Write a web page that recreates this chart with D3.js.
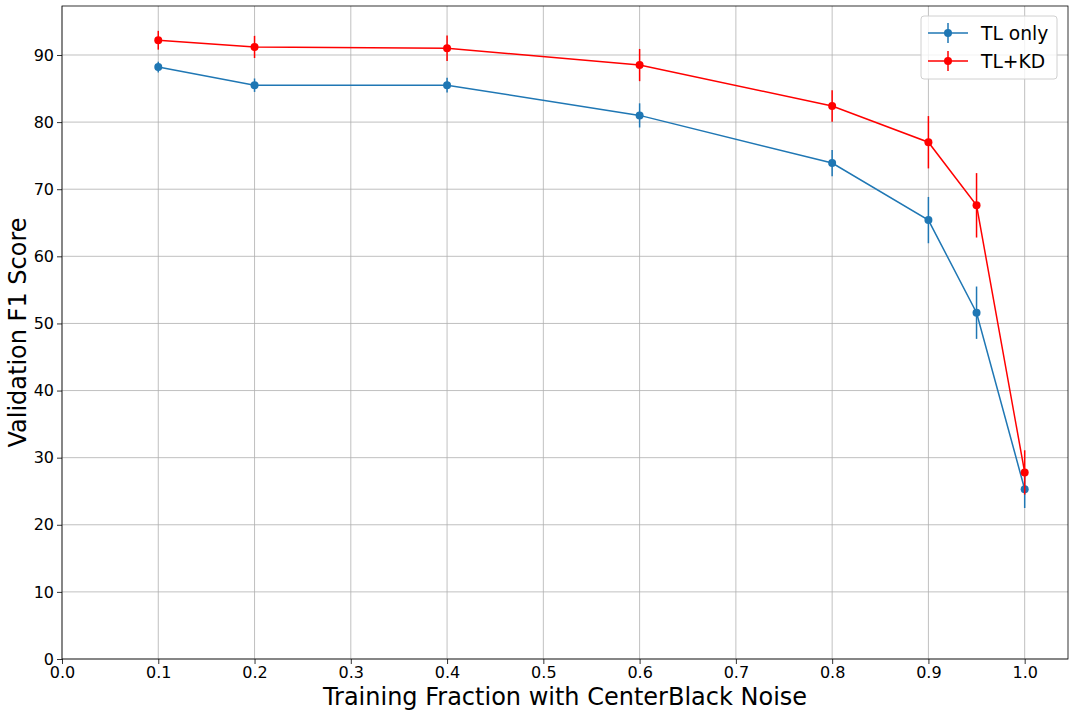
<!DOCTYPE html>
<html><head><meta charset="utf-8">
<script src="https://cdn.jsdelivr.net/npm/d3@7"></script>
<style>body{margin:0;background:#fff}svg{display:block}text{font-family:"DejaVu Sans",sans-serif}</style>
</head><body>
<svg id="c" width="1074" height="716"></svg>
<script>
const fractions = [0.1, 0.2, 0.4, 0.6, 0.8, 0.9, 0.95, 1.0];
const tlOnly = [88.2, 85.5, 85.5, 81.0, 73.9, 65.4, 51.6, 25.3];
const tlOnlyErr = [0.8, 1.0, 1.1, 1.8, 1.95, 3.45, 3.9, 2.8];
const tlKd = [92.2, 91.2, 91.0, 88.5, 82.4, 77.0, 67.6, 27.8];
const tlKdErr = [1.4, 1.65, 1.9, 2.4, 2.35, 3.9, 4.8, 3.3];
const xTicks = [0.0, 0.1, 0.2, 0.3, 0.4, 0.5, 0.6, 0.7, 0.8, 0.9, 1.0];
const yTicks = [0, 10, 20, 30, 40, 50, 60, 70, 80, 90];
const seriesNames = ["TL only", "TL+KD"];

const svg = d3.select("#c");
const L = 62, R = 1068, T = 6, B = 659;
const x = d3.scaleLinear().domain([0, 1.045]).range([L, R]);
const y = d3.scaleLinear().domain([0, 97.3]).range([B, T]);

// grid
const g = svg.append("g");
g.selectAll(".gx").data(xTicks).join("line")
  .attr("x1", d => x(d)).attr("x2", d => x(d)).attr("y1", T).attr("y2", B)
  .attr("stroke", "#b0b0b0").attr("stroke-width", 0.8);
g.selectAll(".gy").data(yTicks).join("line")
  .attr("y1", d => y(d)).attr("y2", d => y(d)).attr("x1", L).attr("x2", R)
  .attr("stroke", "#b0b0b0").attr("stroke-width", 0.8);

// axes
const xAxis = d3.axisBottom(x).tickValues(xTicks).tickFormat(d3.format(".1f")).tickSize(5).tickPadding(3);
const yAxis = d3.axisLeft(y).tickValues(yTicks).tickFormat(d3.format("d")).tickSize(5).tickPadding(3);
const gx = svg.append("g").attr("transform", `translate(0,${B})`).call(xAxis);
const gy = svg.append("g").attr("transform", `translate(${L},0)`).call(yAxis);
[gx, gy].forEach(a => {
  a.select(".domain").remove();
  a.selectAll("line").attr("stroke", "#000").attr("stroke-width", 0.8);
  a.selectAll("text").attr("font-size", 16).attr("fill", "#000").attr("font-family", "DejaVu Sans");
});

// spines
svg.append("rect").attr("x", L).attr("y", T).attr("width", R - L).attr("height", B - T)
  .attr("fill", "none").attr("stroke", "#000").attr("stroke-width", 0.8);

const series = [
  {name: seriesNames[0], v: tlOnly, e: tlOnlyErr, color: "#1f77b4"},
  {name: seriesNames[1], v: tlKd, e: tlKdErr, color: "#ff0000"}
];
const line = d3.line().x(d => x(d[0])).y(d => y(d[1]));
series.forEach(s => {
  const pts = fractions.map((f, i) => [f, s.v[i], s.e[i]]);
  const sg = svg.append("g");
  sg.selectAll(".eb").data(pts).join("line")
    .attr("x1", d => x(d[0])).attr("x2", d => x(d[0]))
    .attr("y1", d => y(d[1] - d[2])).attr("y2", d => y(d[1] + d[2]))
    .attr("stroke", s.color).attr("stroke-width", 1.5);
  sg.append("path").datum(pts).attr("d", line).attr("fill", "none")
    .attr("stroke", s.color).attr("stroke-width", 1.5);
  sg.selectAll("circle").data(pts).join("circle")
    .attr("cx", d => x(d[0])).attr("cy", d => y(d[1])).attr("r", 4)
    .attr("fill", s.color);
});

// legend
const lg = svg.append("g").attr("transform", "translate(921,16)");
lg.append("rect").attr("width", 136).attr("height", 63).attr("rx", 3)
  .attr("fill", "#fff").attr("fill-opacity", 0.8).attr("stroke", "#d0d0d0").attr("stroke-width", 1);
series.forEach((s, i) => {
  const cy = 17 + i * 28;
  lg.append("line").attr("x1", 7).attr("x2", 47).attr("y1", cy).attr("y2", cy)
    .attr("stroke", s.color).attr("stroke-width", 1.5);
  lg.append("line").attr("x1", 27).attr("x2", 27).attr("y1", cy - 10).attr("y2", cy + 10)
    .attr("stroke", s.color).attr("stroke-width", 1.5);
  lg.append("circle").attr("cx", 27).attr("cy", cy).attr("r", 4).attr("fill", s.color);
  lg.append("text").attr("x", 60).attr("y", cy + 6.5).attr("font-size", 18.7).attr("fill", "#000").text(s.name);
});

// axis labels
svg.append("text").attr("x", (L + R) / 2).attr("y", 705).attr("text-anchor", "middle")
  .attr("font-size", 24).attr("fill", "#000").text("Training Fraction with CenterBlack Noise");
svg.append("text").attr("transform", `translate(26,${(T + B) / 2}) rotate(-90)`).attr("text-anchor", "middle")
  .attr("font-size", 24).attr("fill", "#000").text("Validation F1 Score");
</script>
</body></html>
